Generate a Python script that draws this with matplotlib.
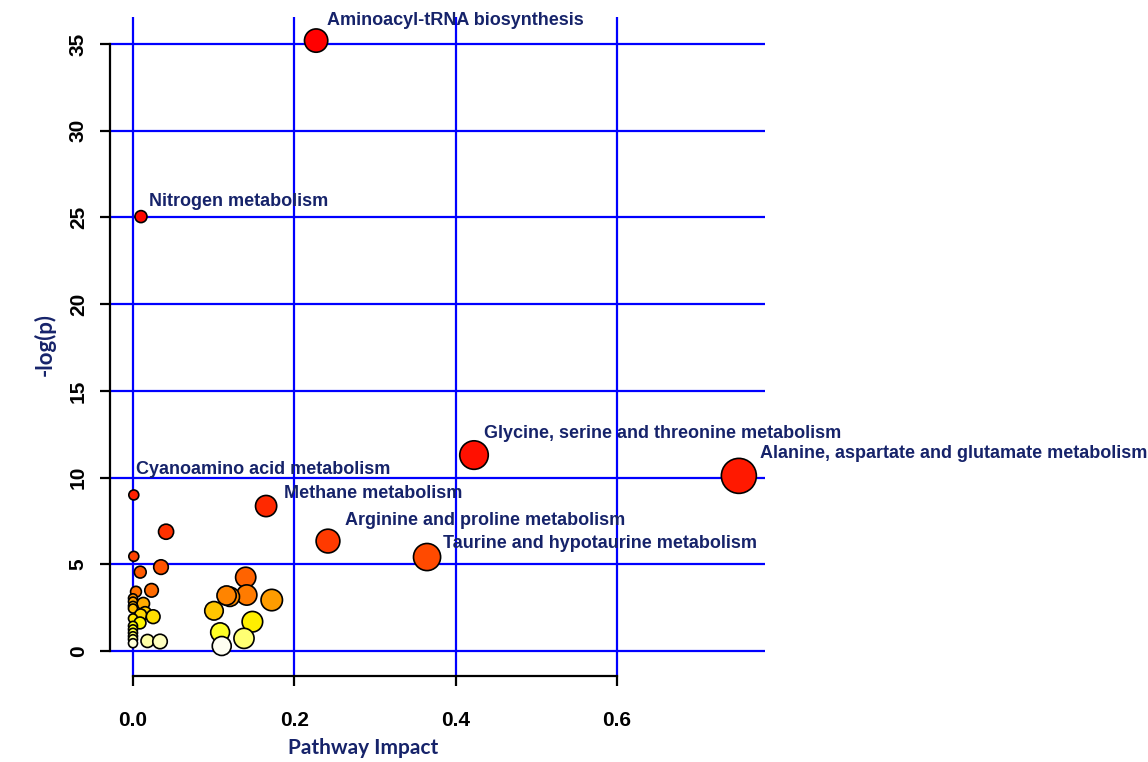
import colorsys

import numpy as np
import matplotlib
matplotlib.use("Agg")
import matplotlib.pyplot as plt

# pathway impact (x) and -log(p) (y)
impact = [0.227, 0.0099, 0.4227, 0.751, 0.001, 0.165, 0.041, 0.2417, 0.001, 0.3645,
          0.0347, 0.009, 0.1397, 0.023, 0.0037, 0.141, 0.120, 0.116, 0.0, 0.172,
          0.0, 0.0128, 0.0, 0.0, 0.1004, 0.015, 0.0095, 0.025, 0.0, 0.148,
          0.0087, 0.0, 0.0, 0.108, 0.0, 0.0, 0.1376, 0.0, 0.018, 0.0335,
          0.0, 0.110]
neglogp = [35.2, 25.05, 11.3, 10.1, 9.0, 8.36, 6.88, 6.34, 5.46, 5.42,
           4.84, 4.55, 4.25, 3.5, 3.42, 3.23, 3.13, 3.2, 3.04, 2.94,
           2.85, 2.73, 2.6, 2.45, 2.32, 2.19, 2.08, 1.98, 1.88, 1.69,
           1.62, 1.45, 1.25, 1.08, 1.05, 0.85, 0.73, 0.68, 0.58, 0.55,
           0.45, 0.29]

labels = {
    0: "Aminoacyl-tRNA biosynthesis",
    1: "Nitrogen metabolism",
    2: "Glycine, serine and threonine metabolism",
    3: "Alanine, aspartate and glutamate metabolism",
    4: "Cyanoamino acid metabolism",
    5: "Methane metabolism",
    7: "Arginine and proline metabolism",
    9: "Taurine and hypotaurine metabolism",
}
# label offsets from the point, in pixels (right, up)
label_offsets = {0: (11, 20), 1: (8, 15), 2: (10, 22), 3: (21, 22),
                 4: (2, 25), 5: (18, 13), 7: (17, 21), 9: (16, 14)}

xticks = [0.0, 0.2, 0.4, 0.6]
yticks = [0, 5, 10, 15, 20, 25, 30, 35]

NAVY = "#16236a"
DPI = 100


def heat_colors(n):
    """R-style heat.colors(n)."""
    j = n // 4
    i = n - j
    cols = [colorsys.hsv_to_rgb(h, 1, 1) for h in np.linspace(0, 1 / 6, i)]
    if j > 0:
        for s in np.linspace(1 - 1 / (2 * j), 1 / (2 * j), j):
            cols.append(colorsys.hsv_to_rgb(1 / 6, s, 1))
    return cols


x = np.array(impact)
y = np.array(neglogp)

# colour by rank of -log(p), size by impact
heat = heat_colors(len(y))
order = np.argsort(-y, kind="stable")
colors = [None] * len(y)
for rank, idx in enumerate(order):
    colors[idx] = heat[rank]
radius_px = 4.5 + 15 * np.sqrt(x)
sizes = (2 * radius_px * 72 / DPI) ** 2

fig = plt.figure(figsize=(11.48, 7.62), dpi=DPI)
ax = fig.add_axes([110 / 1148, 1 - 676 / 762, 655 / 1148, 659 / 762])
ax.set_xlim(-0.0285, 0.7834)
ax.set_ylim(-1.44, 36.56)

for v in yticks:
    ax.axhline(v, color="#0000ff", lw=1.6, zorder=1)
for v in xticks:
    ax.axvline(v, color="#0000ff", lw=1.6, zorder=1)

ax.scatter(x, y, s=sizes, c=colors, edgecolors="black", linewidths=1.2, zorder=3)

for idx, text in labels.items():
    dx, dy = label_offsets[idx]
    ax.annotate(text, (x[idx], y[idx]), xytext=(dx * 0.72, dy * 0.72),
                textcoords="offset points", ha="left", va="center",
                fontsize=13, fontweight="bold", color=NAVY,
                family="Liberation Sans", zorder=4)

for side in ["top", "right"]:
    ax.spines[side].set_visible(False)
ax.spines["left"].set_bounds(0, 35)
ax.spines["bottom"].set_bounds(0, 0.6)
for side in ["left", "bottom"]:
    ax.spines[side].set_linewidth(1.6)

ax.set_xticks(xticks)
ax.set_xticklabels([f"{v:.1f}" for v in xticks])
ax.set_yticks(yticks)
ax.set_yticklabels([str(v) for v in yticks], rotation=90, va="center")
ax.tick_params(direction="out", length=7, width=1.6, labelsize=15)
ax.tick_params(axis="x", pad=18)
ax.tick_params(axis="y", pad=9)
for lab in ax.get_xticklabels() + ax.get_yticklabels():
    lab.set_fontfamily("Liberation Sans")
    lab.set_fontweight("bold")

fig.text(363 / 1148, 1 - 748 / 762, "Pathway Impact", ha="center", va="center",
         fontsize=15, fontweight="bold", color=NAVY, family="Lato")
fig.text(45 / 1148, 1 - 345 / 762, "-log(p)", ha="center", va="center",
         rotation=90, fontsize=16, fontweight="bold", color=NAVY, family="Lato")

fig.savefig("out.png", dpi=DPI)
